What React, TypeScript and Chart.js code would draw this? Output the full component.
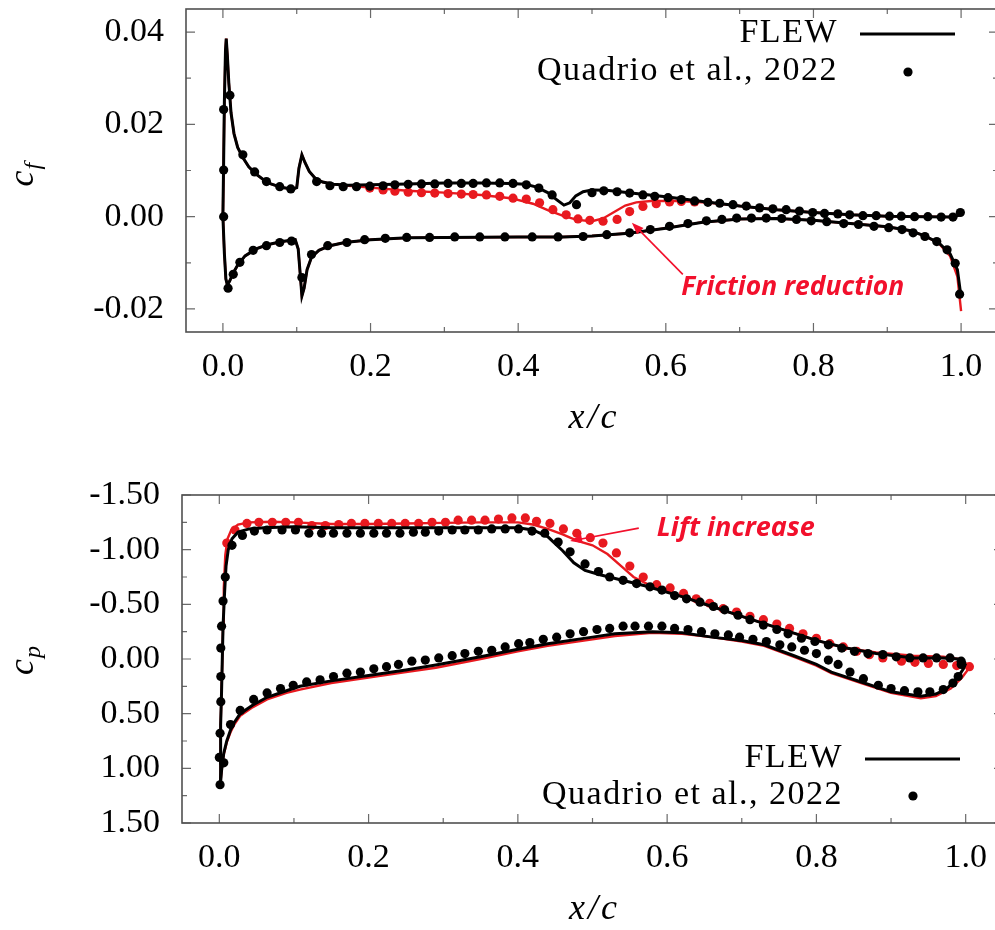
import React, { useEffect, useRef } from 'react';
import { Chart, registerables } from 'chart.js';

Chart.register(...registerables);

type Pt = [number, number];

// ---------------- axis ticks & labels ----------------
const xTickValues = [0, 0.2, 0.4, 0.6, 0.8, 1.0];
const cfTickValues = [-0.02, 0, 0.02, 0.04];
const cpTickValues = [-1.5, -1.0, -0.5, 0, 0.5, 1.0, 1.5];
const legendLabels = ['FLEW', 'Quadrio et al., 2022'];
const frictionNote = 'Friction reduction';
const liftNote = 'Lift increase';

// ---------------- skin friction c_f (top panel) ----------------
const cfUpperFLEW: Pt[] = [
  [0, 0], [0.001, 0.012], [0.002, 0.025], [0.0035, 0.036], [0.0045, 0.0386], [0.006, 0.035], [0.008, 0.029],
  [0.011, 0.0225], [0.015, 0.018], [0.02, 0.015], [0.027, 0.0128], [0.035, 0.0108], [0.045, 0.0092], [0.055, 0.008],
  [0.065, 0.0071], [0.08, 0.0063], [0.095, 0.006], [0.1, 0.0063], [0.103, 0.0105], [0.107, 0.0134], [0.111, 0.0118],
  [0.117, 0.0098], [0.125, 0.0083], [0.135, 0.0075], [0.15, 0.007], [0.17, 0.0068], [0.2, 0.0069], [0.25, 0.0071],
  [0.3, 0.0073], [0.35, 0.0073], [0.39, 0.0072], [0.41, 0.007], [0.425, 0.0064], [0.44, 0.0052], [0.452, 0.0037],
  [0.462, 0.0025], [0.47, 0.003], [0.478, 0.0045], [0.488, 0.0054], [0.5, 0.0058], [0.52, 0.0057], [0.55, 0.0052],
  [0.6, 0.0043], [0.65, 0.0033], [0.7, 0.0023], [0.75, 0.0015], [0.8, 0.0009], [0.85, 0.0004], [0.9, 0.0001],
  [0.95, 0.0], [0.99, -0.0001], [1.0, 0.0005],
];
const cfLowerFLEW: Pt[] = [
  [0, 0], [0.002, -0.008], [0.004, -0.0135], [0.006, -0.0148], [0.009, -0.014], [0.014, -0.0122], [0.02, -0.0105],
  [0.03, -0.0085], [0.045, -0.007], [0.06, -0.0061], [0.08, -0.0054], [0.098, -0.005], [0.102, -0.007], [0.105, -0.013],
  [0.107, -0.0172], [0.11, -0.0155], [0.114, -0.0115], [0.12, -0.0088], [0.13, -0.0073], [0.145, -0.0063],
  [0.165, -0.0056], [0.2, -0.005], [0.25, -0.0046], [0.3, -0.0045], [0.4, -0.0044], [0.46, -0.0044], [0.5, -0.0042],
  [0.55, -0.0036], [0.6, -0.0025], [0.65, -0.0012], [0.7, -0.0005], [0.75, -0.0004], [0.8, -0.0008], [0.85, -0.0015],
  [0.9, -0.0022], [0.93, -0.003], [0.95, -0.0041], [0.97, -0.0057], [0.985, -0.008], [0.995, -0.0115], [1.0, -0.0175],
];
const cfUpperCtrl: Pt[] = [
  [0, 0], [0.001, 0.012], [0.002, 0.025], [0.0035, 0.036], [0.0045, 0.0386], [0.006, 0.035], [0.008, 0.029],
  [0.011, 0.0225], [0.015, 0.018], [0.02, 0.015], [0.027, 0.0128], [0.035, 0.0108], [0.045, 0.0092], [0.055, 0.008],
  [0.065, 0.0071], [0.08, 0.0063], [0.095, 0.006], [0.1, 0.0063], [0.103, 0.0105], [0.107, 0.0134], [0.111, 0.0118],
  [0.117, 0.0098], [0.125, 0.0083], [0.135, 0.0075], [0.15, 0.007], [0.17, 0.0067], [0.2, 0.0063], [0.25, 0.0056],
  [0.3, 0.0052], [0.35, 0.0047], [0.39, 0.004], [0.42, 0.0028], [0.44, 0.0014], [0.46, 0.0002], [0.48, -0.0007],
  [0.5, -0.001], [0.515, -0.0004], [0.53, 0.001], [0.545, 0.0024], [0.56, 0.0031], [0.58, 0.0034], [0.62, 0.0034],
  [0.66, 0.003], [0.7, 0.0023], [0.75, 0.0015], [0.8, 0.0009], [0.85, 0.0004], [0.9, 0.0001], [0.95, 0.0],
  [0.99, -0.0001], [1.0, 0.0005],
];
const cfLowerCtrl: Pt[] = [
  [0, 0], [0.002, -0.008], [0.004, -0.0135], [0.006, -0.0148], [0.009, -0.014], [0.014, -0.0122], [0.02, -0.0105],
  [0.03, -0.0085], [0.045, -0.007], [0.06, -0.0061], [0.08, -0.0054], [0.098, -0.005], [0.102, -0.007], [0.105, -0.013],
  [0.107, -0.0172], [0.11, -0.0155], [0.114, -0.0115], [0.12, -0.0088], [0.13, -0.0073], [0.145, -0.0063],
  [0.165, -0.0056], [0.2, -0.005], [0.25, -0.0046], [0.3, -0.0045], [0.4, -0.0044], [0.46, -0.0044], [0.5, -0.0042],
  [0.55, -0.0036], [0.6, -0.0025], [0.65, -0.0012], [0.7, -0.0005], [0.75, -0.0004], [0.8, -0.0008], [0.85, -0.0015],
  [0.9, -0.0022], [0.93, -0.003], [0.95, -0.0041], [0.97, -0.0058], [0.985, -0.0085], [0.995, -0.013], [1.0, -0.0205],
];
const cfUpperRef: Pt[] = [
  [0.001, 0.0], [0.001, 0.0101], [0.001, 0.0232], [0.0095, 0.0263], [0.027, 0.0134], [0.043, 0.0097], [0.059, 0.0076],
  [0.077, 0.0065], [0.092, 0.006], [0.127, 0.0076], [0.145, 0.0067], [0.163, 0.0065], [0.181, 0.0065], [0.199, 0.0066],
  [0.217, 0.0067], [0.233, 0.0069], [0.251, 0.007], [0.269, 0.0071], [0.287, 0.0071], [0.305, 0.0072], [0.323, 0.0072],
  [0.339, 0.0072], [0.357, 0.0073], [0.375, 0.0073], [0.393, 0.0072], [0.411, 0.0069], [0.428, 0.0062], [0.446, 0.0047],
  [0.479, 0.0026], [0.5, 0.0052], [0.516, 0.0056], [0.534, 0.0054], [0.551, 0.0051], [0.569, 0.0047], [0.585, 0.0044],
  [0.603, 0.0041], [0.621, 0.0037], [0.639, 0.0034], [0.657, 0.0031], [0.673, 0.0029], [0.691, 0.0026], [0.709, 0.0023],
  [0.727, 0.0019], [0.745, 0.0017], [0.763, 0.0015], [0.781, 0.0012], [0.799, 0.0009], [0.815, 0.0007], [0.833, 0.0006],
  [0.849, 0.0004], [0.867, 0.0002], [0.885, 0.0002], [0.903, 0.0001], [0.919, 0.0001], [0.937, 0.0], [0.955, 0.0],
  [0.973, -0.0001], [0.989, -0.0001], [0.999, 0.0009],
];
const cfLowerRef: Pt[] = [
  [0.007, -0.0155], [0.014, -0.0125], [0.023, -0.0099], [0.041, -0.0073], [0.059, -0.0063], [0.077, -0.0056],
  [0.093, -0.0053], [0.107, -0.0132], [0.12, -0.0082], [0.142, -0.0063], [0.168, -0.0056], [0.192, -0.005],
  [0.22, -0.0047], [0.249, -0.0045], [0.28, -0.0045], [0.314, -0.0044], [0.348, -0.0044], [0.382, -0.0044],
  [0.419, -0.0044], [0.454, -0.0044], [0.488, -0.0043], [0.52, -0.0039], [0.551, -0.0035], [0.579, -0.0028],
  [0.605, -0.0021], [0.63, -0.0015], [0.655, -0.0009], [0.676, -0.0006], [0.696, -0.0003], [0.716, -0.0003],
  [0.736, -0.0003], [0.757, -0.0004], [0.777, -0.0006], [0.797, -0.0009], [0.818, -0.0011], [0.841, -0.0015],
  [0.861, -0.0017], [0.882, -0.0021], [0.902, -0.0024], [0.92, -0.0028], [0.935, -0.0035], [0.951, -0.0043],
  [0.967, -0.0054], [0.981, -0.0072], [0.992, -0.0101], [0.998, -0.0168],
];
const cfUpperCtrlRef: Pt[] = [
  [0.199, 0.0062], [0.217, 0.0058], [0.233, 0.0055], [0.251, 0.0053], [0.269, 0.0052], [0.287, 0.0051], [0.305, 0.005],
  [0.323, 0.0049], [0.339, 0.0048], [0.357, 0.0047], [0.375, 0.0044], [0.393, 0.004], [0.411, 0.0038], [0.429, 0.003],
  [0.447, 0.0015], [0.465, 0.0004], [0.481, -0.0005], [0.497, -0.0008], [0.515, -0.001], [0.534, -0.0006],
  [0.551, 0.0011], [0.569, 0.0022], [0.587, 0.0028], [0.605, 0.0032], [0.621, 0.0033], [0.639, 0.0032],
];

// ---------------- pressure c_p (bottom panel) ----------------
const cpUpperFLEW: Pt[] = [
  [0.001, 1.17], [0.0015, 0.9], [0.002, 0.6], [0.003, 0.3], [0.004, 0.0], [0.005, -0.3], [0.007, -0.6], [0.009, -0.85],
  [0.012, -1.0], [0.017, -1.1], [0.025, -1.16], [0.04, -1.19], [0.06, -1.2], [0.1, -1.21], [0.15, -1.2], [0.2, -1.2],
  [0.3, -1.2], [0.4, -1.2], [0.42, -1.18], [0.44, -1.12], [0.46, -0.99], [0.475, -0.88], [0.49, -0.81], [0.51, -0.77],
  [0.54, -0.72], [0.57, -0.67], [0.62, -0.57], [0.66, -0.48], [0.7, -0.39], [0.75, -0.28], [0.8, -0.17], [0.84, -0.1],
  [0.88, -0.05], [0.93, -0.01], [0.97, -0.01], [0.99, 0.0], [1.0, 0.04],
];
const cpLowerFLEW: Pt[] = [
  [0.001, 1.17], [0.003, 1.02], [0.006, 0.86], [0.01, 0.75], [0.015, 0.65], [0.02, 0.58], [0.028, 0.5], [0.045, 0.42],
  [0.064, 0.35], [0.09, 0.29], [0.108, 0.25], [0.15, 0.2], [0.2, 0.15], [0.25, 0.1], [0.29, 0.055], [0.35, -0.02],
  [0.4, -0.09], [0.44, -0.14], [0.5, -0.2], [0.53, -0.23], [0.58, -0.25], [0.62, -0.24], [0.66, -0.2], [0.7, -0.17],
  [0.73, -0.13], [0.77, -0.03], [0.8, 0.05], [0.82, 0.12], [0.86, 0.21], [0.9, 0.3], [0.94, 0.34], [0.96, 0.32],
  [0.975, 0.27], [0.99, 0.16], [0.997, 0.09], [1.0, 0.04],
];
const cpUpperCtrl: Pt[] = [
  [0.001, 1.17], [0.0015, 0.9], [0.002, 0.6], [0.003, 0.3], [0.004, 0.0], [0.005, -0.3], [0.006, -0.65], [0.008, -0.95],
  [0.011, -1.1], [0.016, -1.18], [0.025, -1.23], [0.04, -1.25], [0.07, -1.255], [0.1, -1.25], [0.15, -1.235],
  [0.2, -1.235], [0.25, -1.24], [0.3, -1.245], [0.35, -1.25], [0.4, -1.25], [0.42, -1.23], [0.44, -1.19], [0.46, -1.14],
  [0.48, -1.08], [0.5, -1.04], [0.52, -0.96], [0.54, -0.84], [0.555, -0.75], [0.575, -0.68], [0.62, -0.57],
  [0.66, -0.48], [0.7, -0.39], [0.75, -0.28], [0.8, -0.17], [0.84, -0.1], [0.88, -0.06], [0.93, -0.03], [0.97, -0.02],
  [0.99, 0.0], [1.005, 0.06],
];
const cpLowerCtrl: Pt[] = [
  [0.001, 1.17], [0.003, 1.02], [0.006, 0.87], [0.01, 0.76], [0.015, 0.67], [0.02, 0.6], [0.028, 0.52], [0.045, 0.44],
  [0.064, 0.37], [0.09, 0.31], [0.108, 0.28], [0.15, 0.22], [0.2, 0.17], [0.25, 0.12], [0.29, 0.08], [0.35, 0.0],
  [0.4, -0.07], [0.44, -0.12], [0.5, -0.18], [0.53, -0.21], [0.58, -0.24], [0.62, -0.23], [0.66, -0.2], [0.7, -0.16],
  [0.73, -0.12], [0.77, -0.02], [0.8, 0.06], [0.82, 0.13], [0.86, 0.22], [0.9, 0.31], [0.94, 0.36], [0.96, 0.34],
  [0.98, 0.27], [0.995, 0.17], [1.004, 0.09], [1.005, 0.06],
];
const cpUpperRef: Pt[] = [
  [0.0, 0.9], [0.001, 0.68], [0.002, 0.39], [0.002, 0.16], [0.002, -0.1], [0.003, -0.3], [0.005, -0.53], [0.008, -0.75],
  [0.017, -1.04], [0.031, -1.13], [0.047, -1.17], [0.064, -1.18], [0.084, -1.18], [0.102, -1.18], [0.12, -1.15],
  [0.137, -1.15], [0.153, -1.15], [0.171, -1.15], [0.189, -1.15], [0.207, -1.15], [0.224, -1.15], [0.242, -1.15],
  [0.26, -1.16], [0.276, -1.16], [0.294, -1.17], [0.312, -1.18], [0.329, -1.18], [0.347, -1.18], [0.365, -1.19],
  [0.383, -1.19], [0.401, -1.19], [0.419, -1.17], [0.436, -1.15], [0.454, -1.07], [0.47, -0.98], [0.49, -0.87],
  [0.508, -0.8], [0.523, -0.75], [0.541, -0.72], [0.559, -0.69], [0.577, -0.66], [0.593, -0.63], [0.61, -0.58],
  [0.626, -0.55], [0.644, -0.52], [0.662, -0.48], [0.677, -0.45], [0.695, -0.4], [0.711, -0.36], [0.729, -0.31],
  [0.747, -0.27], [0.762, -0.23], [0.78, -0.19], [0.798, -0.16], [0.816, -0.13], [0.834, -0.1], [0.851, -0.07],
  [0.869, -0.05], [0.889, -0.04], [0.907, -0.02], [0.925, -0.01], [0.943, -0.01], [0.961, -0.01], [0.979, -0.01],
  [0.994, 0.02],
];
const cpLowerRef: Pt[] = [
  [0.001, 1.15], [0.006, 0.95], [0.015, 0.6], [0.028, 0.47], [0.046, 0.37], [0.064, 0.31], [0.082, 0.27], [0.099, 0.24],
  [0.117, 0.21], [0.135, 0.19], [0.153, 0.16], [0.171, 0.13], [0.189, 0.12], [0.207, 0.09], [0.224, 0.07], [0.24, 0.05],
  [0.258, 0.02], [0.276, 0.01], [0.294, -0.01], [0.312, -0.03], [0.329, -0.05], [0.347, -0.07], [0.365, -0.08],
  [0.383, -0.11], [0.401, -0.14], [0.416, -0.15], [0.434, -0.18], [0.452, -0.2], [0.47, -0.23], [0.488, -0.25],
  [0.506, -0.27], [0.523, -0.28], [0.541, -0.3], [0.557, -0.3], [0.575, -0.3], [0.593, -0.3], [0.61, -0.28],
  [0.628, -0.27], [0.646, -0.25], [0.664, -0.23], [0.682, -0.22], [0.697, -0.2], [0.715, -0.18], [0.733, -0.16],
  [0.751, -0.13], [0.767, -0.11], [0.784, -0.08], [0.8, -0.05], [0.816, 0.01], [0.829, 0.05], [0.845, 0.12],
  [0.863, 0.18], [0.883, 0.24], [0.9, 0.27], [0.918, 0.29], [0.936, 0.3], [0.952, 0.3], [0.97, 0.28], [0.983, 0.22],
  [0.99, 0.16], [0.994, 0.05],
];
const cpUpperCtrlRef: Pt[] = [
  [0.01, -1.06], [0.021, -1.18], [0.037, -1.24], [0.053, -1.25], [0.071, -1.25], [0.089, -1.25], [0.106, -1.25],
  [0.124, -1.22], [0.142, -1.22], [0.16, -1.23], [0.177, -1.24], [0.195, -1.24], [0.213, -1.24], [0.231, -1.24],
  [0.249, -1.24], [0.267, -1.24], [0.285, -1.25], [0.303, -1.25], [0.32, -1.27], [0.338, -1.27], [0.356, -1.27],
  [0.374, -1.28], [0.392, -1.29], [0.41, -1.29], [0.425, -1.26], [0.443, -1.24], [0.461, -1.19], [0.479, -1.15],
  [0.497, -1.11], [0.514, -1.06], [0.532, -0.97], [0.55, -0.85], [0.568, -0.75], [0.586, -0.68], [0.604, -0.65],
  [0.622, -0.6], [0.639, -0.55], [0.657, -0.51], [0.675, -0.46], [0.693, -0.43], [0.711, -0.39], [0.729, -0.36],
  [0.747, -0.32], [0.764, -0.28], [0.782, -0.23], [0.8, -0.19], [0.818, -0.14], [0.836, -0.11], [0.854, -0.07],
  [0.871, -0.04], [0.889, -0.01], [0.914, 0.02], [0.932, 0.03], [0.95, 0.04], [0.97, 0.05], [0.988, 0.06],
  [1.005, 0.07],
];

// ---------------- styles ----------------
const SERIF = '"Liberation Serif", "Times New Roman", serif';
const NOTE_FONT = '"Open Sans", "Noto Sans", sans-serif';
const BLACK = '#000000';
const RED = '#e8191f';
const NOTE_RED = '#f2102c';

interface NoteSpec {
  text: string; tx: number; ty: number; tailX: number; tailY: number; tipX: number; tipY: number; width: number;
}
interface PanelSpec {
  key: string; width: number; height: number; top: number;
  padTop: number; padRight: number; yAxisW: number; xAxisH: number;
  yMin: number; yMax: number; reverse: boolean; yTicks: number[]; yMinorStep: number;
  ySub: string;
  lines: { data: Pt[]; color: string; width: number; order: number }[];
  dots: { data: Pt[]; color: string; order: number }[];
  legendTop: boolean;
  note: NoteSpec;
}

const cfPanel: PanelSpec = {
  key: 'cf', width: 1010, height: 440, top: 0, padTop: 9, padRight: 12, yAxisW: 186, xAxisH: 108,
  yMin: -0.025, yMax: 0.045, reverse: false, yTicks: cfTickValues, yMinorStep: 0.01, ySub: 'f',
  lines: [
    { data: cfUpperCtrl, color: RED, width: 2.4, order: 5 },
    { data: cfLowerCtrl, color: RED, width: 2.4, order: 5 },
    { data: cfUpperFLEW, color: BLACK, width: 3, order: 2 },
    { data: cfLowerFLEW, color: BLACK, width: 3, order: 2 },
  ],
  dots: [
    { data: cfUpperCtrlRef, color: RED, order: 4 },
    { data: cfUpperRef, color: BLACK, order: 1 },
    { data: cfLowerRef, color: BLACK, order: 1 },
  ],
  legendTop: true,
  note: { text: frictionNote, tx: 0.772, ty: -0.0153, tailX: 0.623, tailY: -0.0125, tipX: 0.554, tipY: -0.0013, width: 223 },
};

const cpPanel: PanelSpec = {
  key: 'cp', width: 1015, height: 480, top: 450, padTop: 45, padRight: 12, yAxisW: 182, xAxisH: 107,
  yMin: -1.5, yMax: 1.5, reverse: true, yTicks: cpTickValues, yMinorStep: 0.25, ySub: 'p',
  lines: [
    { data: cpUpperCtrl, color: RED, width: 2.4, order: 5 },
    { data: cpLowerCtrl, color: RED, width: 2.4, order: 5 },
    { data: cpUpperFLEW, color: BLACK, width: 3, order: 2 },
    { data: cpLowerFLEW, color: BLACK, width: 3, order: 2 },
  ],
  dots: [
    { data: cpUpperCtrlRef, color: RED, order: 4 },
    { data: cpUpperRef, color: BLACK, order: 1 },
    { data: cpLowerRef, color: BLACK, order: 1 },
  ],
  legendTop: false,
  note: { text: liftNote, tx: 0.692, ty: -1.197, tailX: 0.562, tailY: -1.197, tipX: 0.47, tipY: -1.079, width: 158 },
};

function decorPlugin(spec: PanelSpec) {
  return {
    id: 'decor_' + spec.key,
    afterDatasetsDraw(chart: any) {
      const { ctx, chartArea: a, scales } = chart;
      const xs = scales.x;
      const ys = scales.y;
      ctx.save();

      // inward tick marks (mirrored on all sides)
      ctx.strokeStyle = '#6a6a6a';
      ctx.lineWidth = 1.2;
      ctx.beginPath();
      for (let i = 0; i <= 10; i++) {
        const px = xs.getPixelForValue(i / 10);
        const len = i % 2 === 0 ? 9 : 5;
        ctx.moveTo(px, a.bottom); ctx.lineTo(px, a.bottom - len);
        ctx.moveTo(px, a.top); ctx.lineTo(px, a.top + len);
      }
      const y0 = spec.yTicks[0];
      const y1 = spec.yTicks[spec.yTicks.length - 1];
      const n = Math.round((y1 - y0) / spec.yMinorStep);
      for (let i = 0; i <= n; i++) {
        const v = y0 + i * spec.yMinorStep;
        const major = spec.yTicks.some((t) => Math.abs(t - v) < spec.yMinorStep / 10);
        const py = ys.getPixelForValue(v);
        const len = major ? 9 : 5;
        ctx.moveTo(a.left, py); ctx.lineTo(a.left + len, py);
        ctx.moveTo(a.right, py); ctx.lineTo(a.right - len, py);
      }
      ctx.stroke();

      // frame
      ctx.strokeStyle = '#505050';
      ctx.lineWidth = 1.6;
      ctx.strokeRect(a.left, a.top, a.right - a.left, a.bottom - a.top);

      // x axis title
      ctx.fillStyle = '#000';
      ctx.font = `italic 36px ${SERIF}`;
      ctx.textAlign = 'center';
      ctx.textBaseline = 'alphabetic';
      (ctx as any).letterSpacing = '3px';
      ctx.fillText('x/c', (a.left + a.right) / 2 + 2, a.bottom + 96);
      (ctx as any).letterSpacing = '0px';

      // y axis title (rotated, with subscript)
      const cy = (a.top + a.bottom) / 2;
      ctx.save();
      ctx.translate(33, cy + 16);
      ctx.rotate(-Math.PI / 2);
      ctx.textAlign = 'left';
      ctx.font = `italic 36px ${SERIF}`;
      ctx.fillText('c', 0, 0);
      const cw = ctx.measureText('c').width;
      ctx.font = `italic 24px ${SERIF}`;
      ctx.fillText(spec.ySub, cw + 1, 7);
      ctx.restore();

      // legend
      const r = a.right;
      const l1 = spec.legendTop ? a.top + 24 : a.bottom - 65;
      const l2 = spec.legendTop ? a.top + 62 : a.bottom - 28;
      ctx.font = `34px ${SERIF}`;
      ctx.textAlign = 'right';
      ctx.textBaseline = 'middle';
      (ctx as any).letterSpacing = '1.5px';
      ctx.fillText(legendLabels[0], r - 160, l1);
      ctx.fillText(legendLabels[1], r - 160, l2);
      (ctx as any).letterSpacing = '0px';
      ctx.strokeStyle = '#000';
      ctx.lineWidth = 3;
      ctx.beginPath();
      ctx.moveTo(r - 138, l1 + 1); ctx.lineTo(r - 43, l1 + 1);
      ctx.stroke();
      ctx.beginPath();
      ctx.arc(r - 90, l2 + 1, 4.6, 0, Math.PI * 2);
      ctx.fill();

      // annotation
      const nt = spec.note;
      const tx = xs.getPixelForValue(nt.tx);
      const ty = ys.getPixelForValue(nt.ty);
      ctx.font = `italic 700 30px ${NOTE_FONT}`;
      const w30 = ctx.measureText(nt.text).width;
      const size = (30 * nt.width) / w30;
      ctx.font = `italic 700 ${size}px ${NOTE_FONT}`;
      ctx.fillStyle = NOTE_RED;
      ctx.textAlign = 'center';
      ctx.textBaseline = 'middle';
      ctx.fillText(nt.text, tx, ty);
      const ax = xs.getPixelForValue(nt.tailX);
      const ay = ys.getPixelForValue(nt.tailY);
      const bx = xs.getPixelForValue(nt.tipX);
      const by = ys.getPixelForValue(nt.tipY);
      const ang = Math.atan2(by - ay, bx - ax);
      ctx.strokeStyle = NOTE_RED;
      ctx.lineWidth = 1.6;
      ctx.beginPath();
      ctx.moveTo(ax, ay);
      ctx.lineTo(bx - 6 * Math.cos(ang), by - 6 * Math.sin(ang));
      ctx.stroke();
      ctx.beginPath();
      ctx.moveTo(bx, by);
      ctx.lineTo(bx - 12 * Math.cos(ang) + 4.5 * Math.sin(ang), by - 12 * Math.sin(ang) - 4.5 * Math.cos(ang));
      ctx.lineTo(bx - 12 * Math.cos(ang) - 4.5 * Math.sin(ang), by - 12 * Math.sin(ang) + 4.5 * Math.cos(ang));
      ctx.closePath();
      ctx.fill();

      ctx.restore();
    },
  };
}

const toXY = (pts: Pt[]) => pts.map(([x, y]) => ({ x, y }));

function buildConfig(spec: PanelSpec): any {
  const datasets: any[] = [];
  spec.lines.forEach((l) =>
    datasets.push({
      data: toXY(l.data), showLine: true, borderColor: l.color, borderWidth: l.width, pointRadius: 0,
      pointHoverRadius: 0, fill: false, tension: 0, order: l.order,
    })
  );
  spec.dots.forEach((d) =>
    datasets.push({
      data: toXY(d.data), showLine: false, pointRadius: 4.6, pointHoverRadius: 4.6, pointBackgroundColor: d.color,
      backgroundColor: d.color, pointBorderWidth: 0, borderWidth: 0, order: d.order,
    })
  );
  const tickFont = { family: SERIF, size: 34, lineHeight: 1 };
  return {
    type: 'scatter',
    data: { datasets },
    options: {
      animation: false,
      responsive: false,
      maintainAspectRatio: false,
      devicePixelRatio: 1,
      events: [],
      layout: { padding: { top: spec.padTop, right: spec.padRight, left: 0, bottom: 0 } },
      plugins: { legend: { display: false }, tooltip: { enabled: false } },
      scales: {
        x: {
          type: 'linear', min: -0.05, max: 1.05,
          grid: { display: false, drawTicks: false }, border: { display: false },
          afterBuildTicks: (s: any) => { s.ticks = xTickValues.map((v) => ({ value: v })); },
          afterFit: (s: any) => { s.height = spec.xAxisH; s.paddingLeft = 0; s.paddingRight = 0; },
          ticks: {
            callback: (v: any) => Number(v).toFixed(1), font: tickFont, color: '#000', padding: 18,
            maxRotation: 0, minRotation: 0, autoSkip: false,
          },
        },
        y: {
          type: 'linear', min: spec.yMin, max: spec.yMax, reverse: spec.reverse,
          grid: { display: false, drawTicks: false }, border: { display: false },
          afterBuildTicks: (s: any) => { s.ticks = spec.yTicks.map((v) => ({ value: v })); },
          afterFit: (s: any) => { s.width = spec.yAxisW; s.paddingTop = 0; s.paddingBottom = 0; },
          ticks: {
            callback: (v: any) => (Math.abs(Number(v)) < 1e-12 ? 0 : Number(v)).toFixed(2), font: tickFont,
            color: '#000', padding: 22, autoSkip: false,
          },
        },
      },
    },
    plugins: [decorPlugin(spec)],
  };
}

function Panel({ spec }: { spec: PanelSpec }) {
  const ref = useRef<HTMLCanvasElement>(null);
  useEffect(() => {
    if (!ref.current) return;
    const chart = new Chart(ref.current, buildConfig(spec));
    return () => chart.destroy();
  }, [spec]);
  return (
    <canvas
      ref={ref}
      width={spec.width}
      height={spec.height}
      style={{ position: 'absolute', left: 0, top: spec.top, width: spec.width, height: spec.height, display: 'block' }}
    />
  );
}

export default function App() {
  return (
    <div style={{ position: 'absolute', left: 0, top: 0, width: 995, height: 930, overflow: 'hidden', background: '#ffffff' }}>
      <Panel spec={cfPanel} />
      <Panel spec={cpPanel} />
    </div>
  );
}
